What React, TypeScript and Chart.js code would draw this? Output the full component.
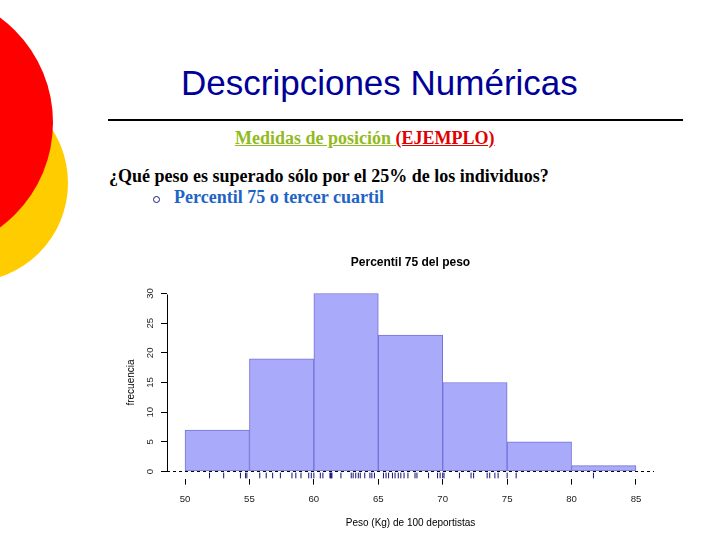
import React, { useEffect, useRef } from "react";
import { Chart, registerables } from "chart.js";

Chart.register(...registerables);

// ---- data ----
const binStarts = [50, 55, 60, 65, 70, 75, 80];
const binWidth = 5;
const frequencies = [7, 19, 30, 23, 15, 5, 1];
const xTickValues = [50, 55, 60, 65, 70, 75, 80, 85];
const yTickValues = [0, 5, 10, 15, 20, 25, 30];
const rugWeights = [
  51.9, 53.0, 54.3, 54.7, 54.8, 55.8, 56.3, 56.8, 57.4, 58.3, 58.6, 59.0,
  59.6, 59.8, 60.0, 60.5, 60.7, 61.25, 61.3, 61.35, 61.4, 62.1, 62.9, 63.05,
  63.25, 63.45, 63.6, 63.95, 64.35, 64.5, 64.7, 65.4, 65.6, 65.8, 66.1, 66.3,
  66.55, 66.75, 67.0, 67.3, 67.85, 68.0, 68.9, 69.6, 69.8, 70.0, 70.1, 71.3,
  72.2, 72.4, 73.45, 73.65, 74.05, 74.3, 75.0, 75.7, 81.7,
];

const chartTitle = "Percentil 75 del peso";
const xTitle = "Peso (Kg) de 100 deportistas";
const yTitle = "frecuencia";

// ---- layout / style constants ----
const RUG_Y = -0.7;
const X_MIN = 48.6;
const X_MAX = 86.4;
const Y_MIN = -1.2;
const Y_MAX = 31.2;
const SANS = "'Liberation Sans', Arial, Helvetica, sans-serif";
const SERIF = "'Liberation Serif', 'Times New Roman', serif";

const rAxesPlugin = {
  id: "rAxes",
  afterDatasetsDraw(chart: any) {
    const { ctx, chartArea, scales } = chart;
    const ys = scales.y;
    ctx.save();
    ctx.strokeStyle = "#000";
    ctx.lineWidth = 1;
    const y0 = Math.round(ys.getPixelForValue(0)) + 0.5;
    ctx.setLineDash([3, 3]);
    ctx.beginPath();
    ctx.moveTo(chartArea.left, y0);
    ctx.lineTo(chartArea.right, y0);
    ctx.stroke();
    ctx.setLineDash([]);
    const xl = Math.round(chartArea.left) + 0.5;
    ctx.beginPath();
    ctx.moveTo(xl, Math.round(ys.getPixelForValue(yTickValues[0])) + 0.5);
    ctx.lineTo(xl, Math.round(ys.getPixelForValue(yTickValues[yTickValues.length - 1])) + 0.5);
    ctx.stroke();
    ctx.restore();
  },
};

function HistChart() {
  const ref = useRef<HTMLCanvasElement>(null);
  useEffect(() => {
    const canvas = ref.current;
    if (!canvas) return;
    const chart = new Chart(canvas, {
      type: "bar",
      data: {
        datasets: [
          {
            type: "scatter",
            data: rugWeights.map((v) => ({ x: v, y: RUG_Y })),
            pointStyle: "line",
            pointRotation: 90,
            pointRadius: 3,
            pointHoverRadius: 3,
            pointBorderWidth: 1,
            pointBorderColor: "#10107A",
            pointBackgroundColor: "#10107A",
            borderColor: "#10107A",
          } as any,
          {
            type: "bar",
            data: binStarts.map((s, i) => ({ x: s + binWidth / 2, y: frequencies[i] })),
            backgroundColor: "#A9AAF9",
            borderColor: "#7373D9",
            borderWidth: 1,
            borderSkipped: false,
            barPercentage: 1,
            categoryPercentage: 1,
          } as any,
        ],
      },
      options: {
        responsive: false,
        devicePixelRatio: 1,
        animation: false,
        events: [],
        layout: { padding: { left: 0, right: 66, top: 0, bottom: 0 } },
        plugins: {
          legend: { display: false },
          tooltip: { enabled: false },
          title: {
            display: true,
            fullSize: false,
            text: chartTitle,
            color: "#000",
            font: { family: SANS, size: 12, weight: "bold" },
            padding: { top: 15.3, bottom: 16.7 },
          },
        },
        scales: {
          x: {
            type: "linear",
            min: X_MIN,
            max: X_MAX,
            offset: false,
            afterBuildTicks: (s: any) => {
              s.ticks = xTickValues.map((v) => ({ value: v }));
            },
            afterFit: (s: any) => {
              s.height = 61.4;
            },
            grid: { offset: false, drawOnChartArea: false, drawTicks: true, tickLength: 6, color: "#000" },
            border: { display: false },
            ticks: {
              color: "#222",
              font: { family: SANS, size: 9.6 },
              padding: 8.5,
              maxRotation: 0,
              autoSkip: false,
            },
            title: {
              display: true,
              text: xTitle,
              color: "#000",
              font: { family: SANS, size: 10 },
              padding: { top: 0, bottom: 11 },
            },
          },
          y: {
            type: "linear",
            min: Y_MIN,
            max: Y_MAX,
            afterBuildTicks: (s: any) => {
              s.ticks = yTickValues.map((v) => ({ value: v }));
            },
            afterFit: (s: any) => {
              s.width = 67;
            },
            grid: { drawOnChartArea: false, drawTicks: true, tickLength: 6, color: "#000" },
            border: { display: false },
            ticks: {
              color: "#222",
              font: { family: SANS, size: 9.6 },
              padding: 5,
              minRotation: 90,
              maxRotation: 90,
              crossAlign: "center",
              autoSkip: false,
            },
            title: {
              display: true,
              text: yTitle,
              color: "#000",
              font: { family: SANS, size: 10 },
              padding: { top: 25.7, bottom: 0 },
            },
          },
        },
      } as any,
      plugins: [rAxesPlugin],
    });
    return () => chart.destroy();
  }, []);
  return (
    <canvas
      ref={ref}
      width={620}
      height={300}
      style={{ position: "absolute", left: 100, top: 240, width: 620, height: 300 }}
    />
  );
}

const abs = (left: number, top: number, extra: React.CSSProperties = {}): React.CSSProperties => ({
  position: "absolute",
  left,
  top,
  whiteSpace: "nowrap",
  ...extra,
});

export default function App() {
  return (
    <div
      style={{
        position: "absolute",
        left: 0,
        top: 0,
        width: 720,
        height: 540,
        background: "#fff",
        overflow: "hidden",
      }}
    >
      {/* decorative circles */}
      <div
        style={abs(-130, 84, {
          width: 198,
          height: 198,
          borderRadius: "50%",
          background: "#FFCC00",
        })}
      />
      <div
        style={abs(-208, -8.5, {
          width: 261,
          height: 261,
          borderRadius: "50%",
          background: "#FF0000",
        })}
      />

      {/* title */}
      <div
        style={abs(181, 65, {
          fontFamily: SANS,
          fontSize: 35,
          lineHeight: "35px",
          color: "#000099",
        })}
      >
        Descripciones Numéricas
      </div>
      <div style={abs(108, 119, { width: 575, height: 2, background: "#000" })} />

      {/* subtitle */}
      <div
        style={abs(235, 129, {
          fontFamily: SERIF,
          fontSize: 18,
          lineHeight: "18px",
          fontWeight: "bold",
        })}
      >
        <span style={{ color: "#92BA22", textDecoration: "underline" }}>Medidas de posición </span>
        <span style={{ color: "#E00000", textDecoration: "underline" }}>(EJEMPLO)</span>
      </div>

      {/* question */}
      <div
        style={abs(109, 166.6, {
          fontFamily: SERIF,
          fontSize: 18,
          lineHeight: "18px",
          fontWeight: "bold",
          color: "#000",
        })}
      >
        ¿Qué peso es superado sólo por el 25% de los individuos?
      </div>

      {/* bullet */}
      <div
        style={abs(153, 196, {
          width: 7,
          height: 7,
          boxSizing: "border-box",
          border: "1.5px solid #1A1A80",
          borderRadius: "50%",
        })}
      />
      <div
        style={abs(174, 188.2, {
          fontFamily: SERIF,
          fontSize: 18,
          lineHeight: "18px",
          fontWeight: "bold",
          color: "#1E63C6",
        })}
      >
        Percentil 75 o tercer cuartil
      </div>

      <HistChart />
    </div>
  );
}
